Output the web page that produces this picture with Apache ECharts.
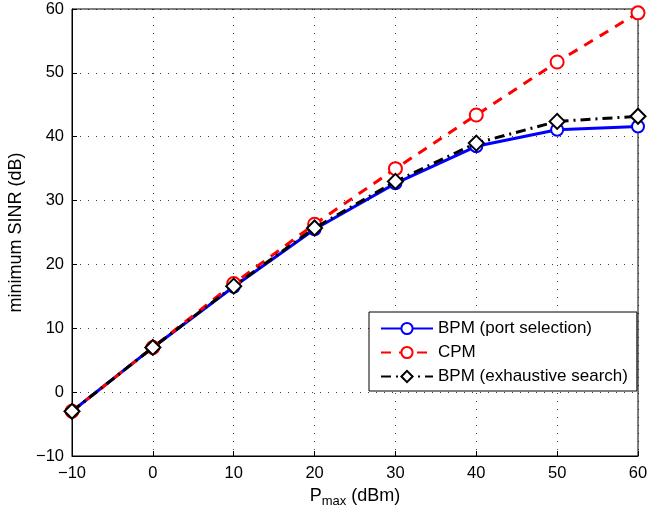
<!DOCTYPE html>
<html><head><meta charset="utf-8">
<script src="https://cdn.jsdelivr.net/npm/echarts@6/dist/echarts.min.js"></script>
<style>html,body{margin:0;padding:0;background:#fff}#c{width:662px;height:507px}</style>
</head><body><div id="c"></div>
<script>
const pmax = [-10, 0, 10, 20, 30, 40, 50, 60];
const bpmPort = [-3, 7, 16.5, 25.5, 32.7, 38.5, 41.1, 41.6];
const cpm = [-3, 7, 17, 26.3, 35, 43.4, 51.7, 59.4];
const bpmExh = [-3, 7, 16.6, 25.7, 33, 39, 42.4, 43.2];
const seriesNames = ['BPM (port selection)', 'CPM', 'BPM (exhaustive search)'];

const font = 'Liberation Sans, Arial, Helvetica, sans-serif';
const chart = echarts.init(document.getElementById('c'), null, {renderer: 'canvas'});
const pairs = a => pmax.map((x, i) => [x, a[i]]);
const dotted = {type: [1, 7], color: '#000', width: 1, opacity: 0.75};
const fmt = v => String(v).replace('-', '\u2212');
chart.setOption({
  animation: false,
  backgroundColor: '#fff',
  grid: {left: 72, top: 9, right: 24, bottom: 51, show: true, borderColor: '#000', borderWidth: 1,
         containLabel: false, outerBoundsMode: 'none'},
  legend: {
    orient: 'vertical', left: 369, top: 312,
    backgroundColor: '#fff', borderColor: '#000', borderWidth: 1,
    padding: [8, 9, 6, 11], itemGap: 7, itemWidth: 52, itemHeight: 14,
    textStyle: {fontFamily: font, fontSize: 17, color: '#000'},
    data: seriesNames
  },
  xAxis: {
    type: 'value', min: -10, max: 60, interval: 10,
    name: '{n|P}{s|max}{n| (dBm)}', nameLocation: 'middle', nameGap: 23,
    nameTextStyle: {rich: {n: {fontFamily: font, fontSize: 18, color: '#000'}, s: {fontFamily: font, fontSize: 13, color: '#000', padding: [12, 0, 0, 0]}}},
    axisLine: {onZero: false, lineStyle: {color: '#000', width: 1}},
    axisTick: {inside: true, length: 5, lineStyle: {color: '#000'}},
    axisLabel: {fontFamily: font, fontSize: 16.5, color: '#000', margin: 9, formatter: fmt},
    splitLine: {show: true, lineStyle: dotted}
  },
  yAxis: {
    type: 'value', min: -10, max: 60, interval: 10,
    name: 'minimum SINR (dB)', nameLocation: 'middle', nameGap: 34,
    nameTextStyle: {fontFamily: font, fontSize: 18, color: '#000'},
    axisLine: {show: true, onZero: false, lineStyle: {color: '#000', width: 1}},
    axisTick: {show: true, inside: true, length: 5, lineStyle: {color: '#000'}},
    axisLabel: {fontFamily: font, fontSize: 16.5, color: '#000', margin: 8, formatter: fmt},
    splitLine: {show: true, lineStyle: dotted}
  },
  series: [
    {name: seriesNames[0], type: 'line', data: pairs(bpmPort), symbol: 'emptyCircle', symbolSize: 12,
     lineStyle: {color: '#0000ff', width: 3}, itemStyle: {color: '#0000ff', borderWidth: 2.5}, z: 2},
    {name: seriesNames[1], type: 'line', data: pairs(cpm), symbol: 'emptyCircle', symbolSize: 13,
     lineStyle: {color: '#ff0000', width: 3, type: [10, 8]}, itemStyle: {color: '#ff0000', borderWidth: 2.5}, z: 3},
    {name: seriesNames[2], type: 'line', data: pairs(bpmExh), symbol: 'emptyDiamond', symbolSize: 15,
     lineStyle: {color: '#000', width: 3, type: [10, 5, 2, 5]}, itemStyle: {color: '#000', borderWidth: 2.5}, z: 4}
  ]
});
</script></body></html>
